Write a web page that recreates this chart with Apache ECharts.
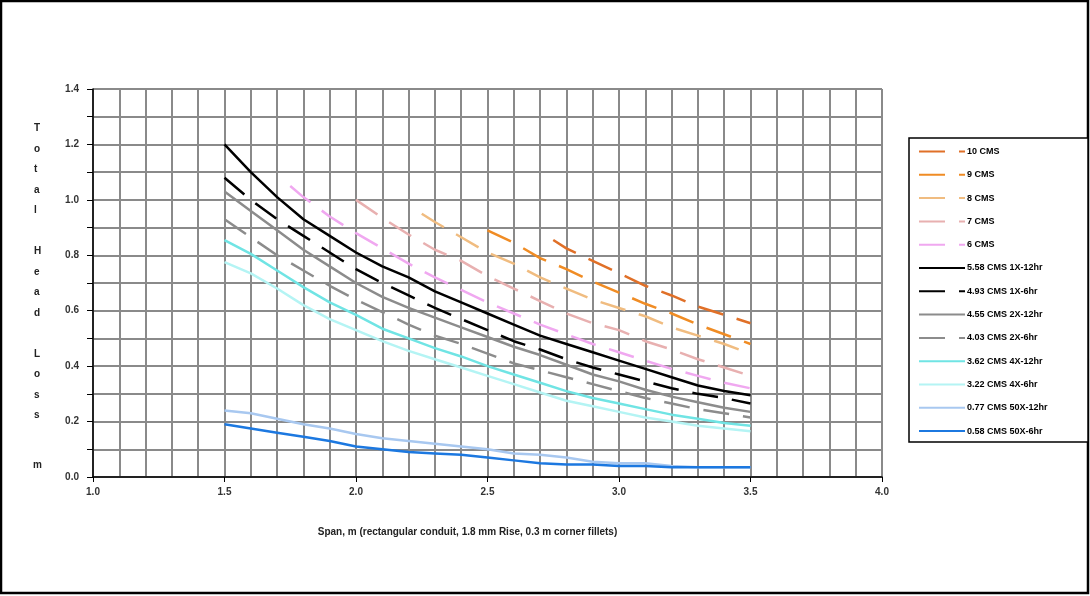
<!DOCTYPE html>
<html>
<head>
<meta charset="utf-8">
<script src="https://cdn.jsdelivr.net/npm/echarts@6/dist/echarts.min.js"></script>
<style>html,body{margin:0;padding:0;background:#fff}#c{width:1090px;height:596px}</style>
</head>
<body>
<div id="c"></div>
<script>
const span = [1.5,1.6,1.7,1.8,1.9,2.0,2.1,2.2,2.3,2.4,2.5,2.6,2.7,2.8,2.9,3.0,3.1,3.2,3.3,3.4,3.5];
const span6 = [1.75,1.8,1.9,2.0,2.1,2.2,2.3,2.4,2.5,2.6,2.7,2.8,2.9,3.0,3.1,3.2,3.3,3.4,3.5];
const span7 = [2.0,2.1,2.2,2.3,2.4,2.5,2.6,2.7,2.8,2.9,3.0,3.1,3.2,3.3,3.4,3.5];
const span8 = [2.25,2.3,2.4,2.5,2.6,2.7,2.8,2.9,3.0,3.1,3.2,3.3,3.4,3.5];
const span9 = [2.5,2.6,2.7,2.8,2.9,3.0,3.1,3.2,3.3,3.4,3.5];
const span10 = [2.75,2.8,2.9,3.0,3.1,3.2,3.3,3.4,3.5];

const cms10 = [0.855,0.825,0.78,0.735,0.69,0.655,0.615,0.585,0.555];
const cms9 = [0.89,0.845,0.79,0.75,0.705,0.665,0.625,0.59,0.55,0.515,0.48];
const cms8 = [0.95,0.92,0.865,0.81,0.77,0.72,0.68,0.64,0.61,0.58,0.54,0.51,0.48,0.445];
const cms7 = [1.0,0.935,0.875,0.82,0.78,0.725,0.68,0.635,0.59,0.555,0.53,0.49,0.46,0.425,0.395,0.365];
const cms6 = [1.05,1.01,0.94,0.88,0.825,0.77,0.72,0.675,0.63,0.59,0.55,0.515,0.48,0.45,0.42,0.39,0.365,0.34,0.32];
const cms558 = [1.20,1.10,1.01,0.93,0.87,0.81,0.76,0.72,0.67,0.63,0.59,0.55,0.51,0.48,0.45,0.42,0.39,0.36,0.33,0.31,0.295];
const cms493 = [1.08,1.00,0.93,0.87,0.81,0.75,0.70,0.655,0.61,0.57,0.53,0.49,0.46,0.425,0.395,0.37,0.345,0.32,0.30,0.285,0.265];
const cms455 = [1.03,0.96,0.89,0.82,0.76,0.70,0.65,0.61,0.575,0.54,0.505,0.47,0.44,0.405,0.37,0.345,0.315,0.29,0.27,0.25,0.235];
const cms403 = [0.93,0.865,0.80,0.745,0.69,0.64,0.595,0.55,0.51,0.48,0.445,0.41,0.385,0.36,0.335,0.31,0.285,0.265,0.245,0.23,0.215];
const cms362 = [0.855,0.805,0.745,0.685,0.63,0.585,0.535,0.50,0.465,0.435,0.40,0.37,0.34,0.31,0.285,0.265,0.245,0.225,0.21,0.195,0.185];
const cms322 = [0.775,0.735,0.68,0.62,0.57,0.53,0.49,0.455,0.425,0.395,0.365,0.335,0.305,0.275,0.255,0.235,0.215,0.20,0.185,0.175,0.165];
const cms077 = [0.24,0.23,0.21,0.19,0.175,0.155,0.14,0.13,0.12,0.11,0.10,0.085,0.08,0.07,0.055,0.05,0.05,0.04,0.035,0.035,0.035];
const cms058 = [0.19,0.175,0.16,0.145,0.13,0.11,0.10,0.09,0.085,0.08,0.07,0.06,0.05,0.045,0.045,0.04,0.04,0.035,0.035,0.035,0.035];

const seriesNames = ['10 CMS','9 CMS','8 CMS','7 CMS','6 CMS','5.58 CMS 1X-12hr','4.93 CMS 1X-6hr','4.55 CMS 2X-12hr','4.03 CMS 2X-6hr','3.62 CMS 4X-12hr','3.22 CMS 4X-6hr','0.77 CMS 50X-12hr','0.58 CMS 50X-6hr'];
const xs = [span10,span9,span8,span7,span6,span,span,span,span,span,span,span,span];
const ys = [cms10,cms9,cms8,cms7,cms6,cms558,cms493,cms455,cms403,cms362,cms322,cms077,cms058];
const colors = ['#e07028','#f08c24','#f0bc80','#e8b0b0','#f0a8f0','#000000','#000000','#8c8c8c','#8c8c8c','#70e4e4','#b4f4f4','#a8c8f0','#1c78e0'];
const dashed = [true,true,true,true,true,false,true,false,true,false,false,false,false];

const series = seriesNames.map((n,i)=>({
  name:n, type:'line', showSymbol:false, symbol:'none',
  data: xs[i].map((x,j)=>[x, ys[i][j]]),
  lineStyle:{color:colors[i], width:2.5, type: dashed[i] ? [26,14] : 'solid'},
  itemStyle:{color:colors[i]},
  z: i===12 ? 4 : 3,
  animation:false
}));

const chart = echarts.init(document.getElementById('c'));
chart.setOption({
  backgroundColor:'#fff',
  animation:false,
  grid:{left:93,right:208,top:89,bottom:119},
  xAxis:{
    type:'value', min:1, max:4, interval:0.5,
    name:'Span, m (rectangular conduit, 1.8 mm Rise, 0.3 m corner fillets)',
    nameLocation:'middle', nameGap:50,
    nameTextStyle:{fontFamily:'Liberation Sans',fontSize:10,fontWeight:'bold',color:'#222',padding:[0,40,0,0]},
    axisLine:{lineStyle:{color:'#000',width:1.5}},
    axisTick:{show:true,length:5,lineStyle:{color:'#000'}},
    axisLabel:{formatter:v=>v.toFixed(1),fontFamily:'Liberation Sans',fontSize:10,fontWeight:'bold',color:'#333',margin:10},
    splitLine:{show:true,lineStyle:{color:'#8a8a8a',width:2}},
    minorTick:{show:false,splitNumber:5},
    minorSplitLine:{show:true,lineStyle:{color:'#8a8a8a',width:2}}
  },
  yAxis:{
    type:'value', min:0, max:1.4, interval:0.2,
    axisLine:{show:true,lineStyle:{color:'#000',width:1.5}},
    axisTick:{show:true,length:6,lineStyle:{color:'#000'}},
    minorTick:{show:true,splitNumber:2,length:6,lineStyle:{color:'#000'}},
    axisLabel:{formatter:v=>v.toFixed(1),fontFamily:'Liberation Sans',fontSize:10,fontWeight:'bold',color:'#333',margin:14},
    splitLine:{show:true,lineStyle:{color:'#8a8a8a',width:2}},
    minorSplitLine:{show:true,lineStyle:{color:'#8a8a8a',width:2}}
  },
  legend:{
    orient:'vertical', left:913, top:142,
    itemWidth:46, itemHeight:10, itemGap:14.3,
    itemStyle:{opacity:0},
    textStyle:{fontFamily:'Liberation Sans',fontSize:9,fontWeight:'bold',color:'#000',padding:[0,0,0,-3]},
    data:seriesNames
  },
  graphic:[
    {type:'rect',shape:{x:1,y:1,width:1087,height:592},style:{fill:'none',stroke:'#000',lineWidth:2.5},z:-1},
    {type:'rect',shape:{x:909,y:138,width:179,height:304},style:{fill:'#fff',stroke:'#000',lineWidth:1.5},z:-1},
    {type:'text',left:34,top:118,style:{text:'T\no\nt\na\nl\n\nH\ne\na\nd\n\nL\no\ns\ns',fontFamily:'Liberation Sans',fontSize:10,fontWeight:'bold',lineHeight:20.5,fill:'#222',align:'center'}},
    {type:'text',left:33,top:460,style:{text:'m',fontFamily:'Liberation Sans',fontSize:10,fontWeight:'bold',fill:'#222'}}
  ],
  series:series
});
</script>
</body>
</html>
